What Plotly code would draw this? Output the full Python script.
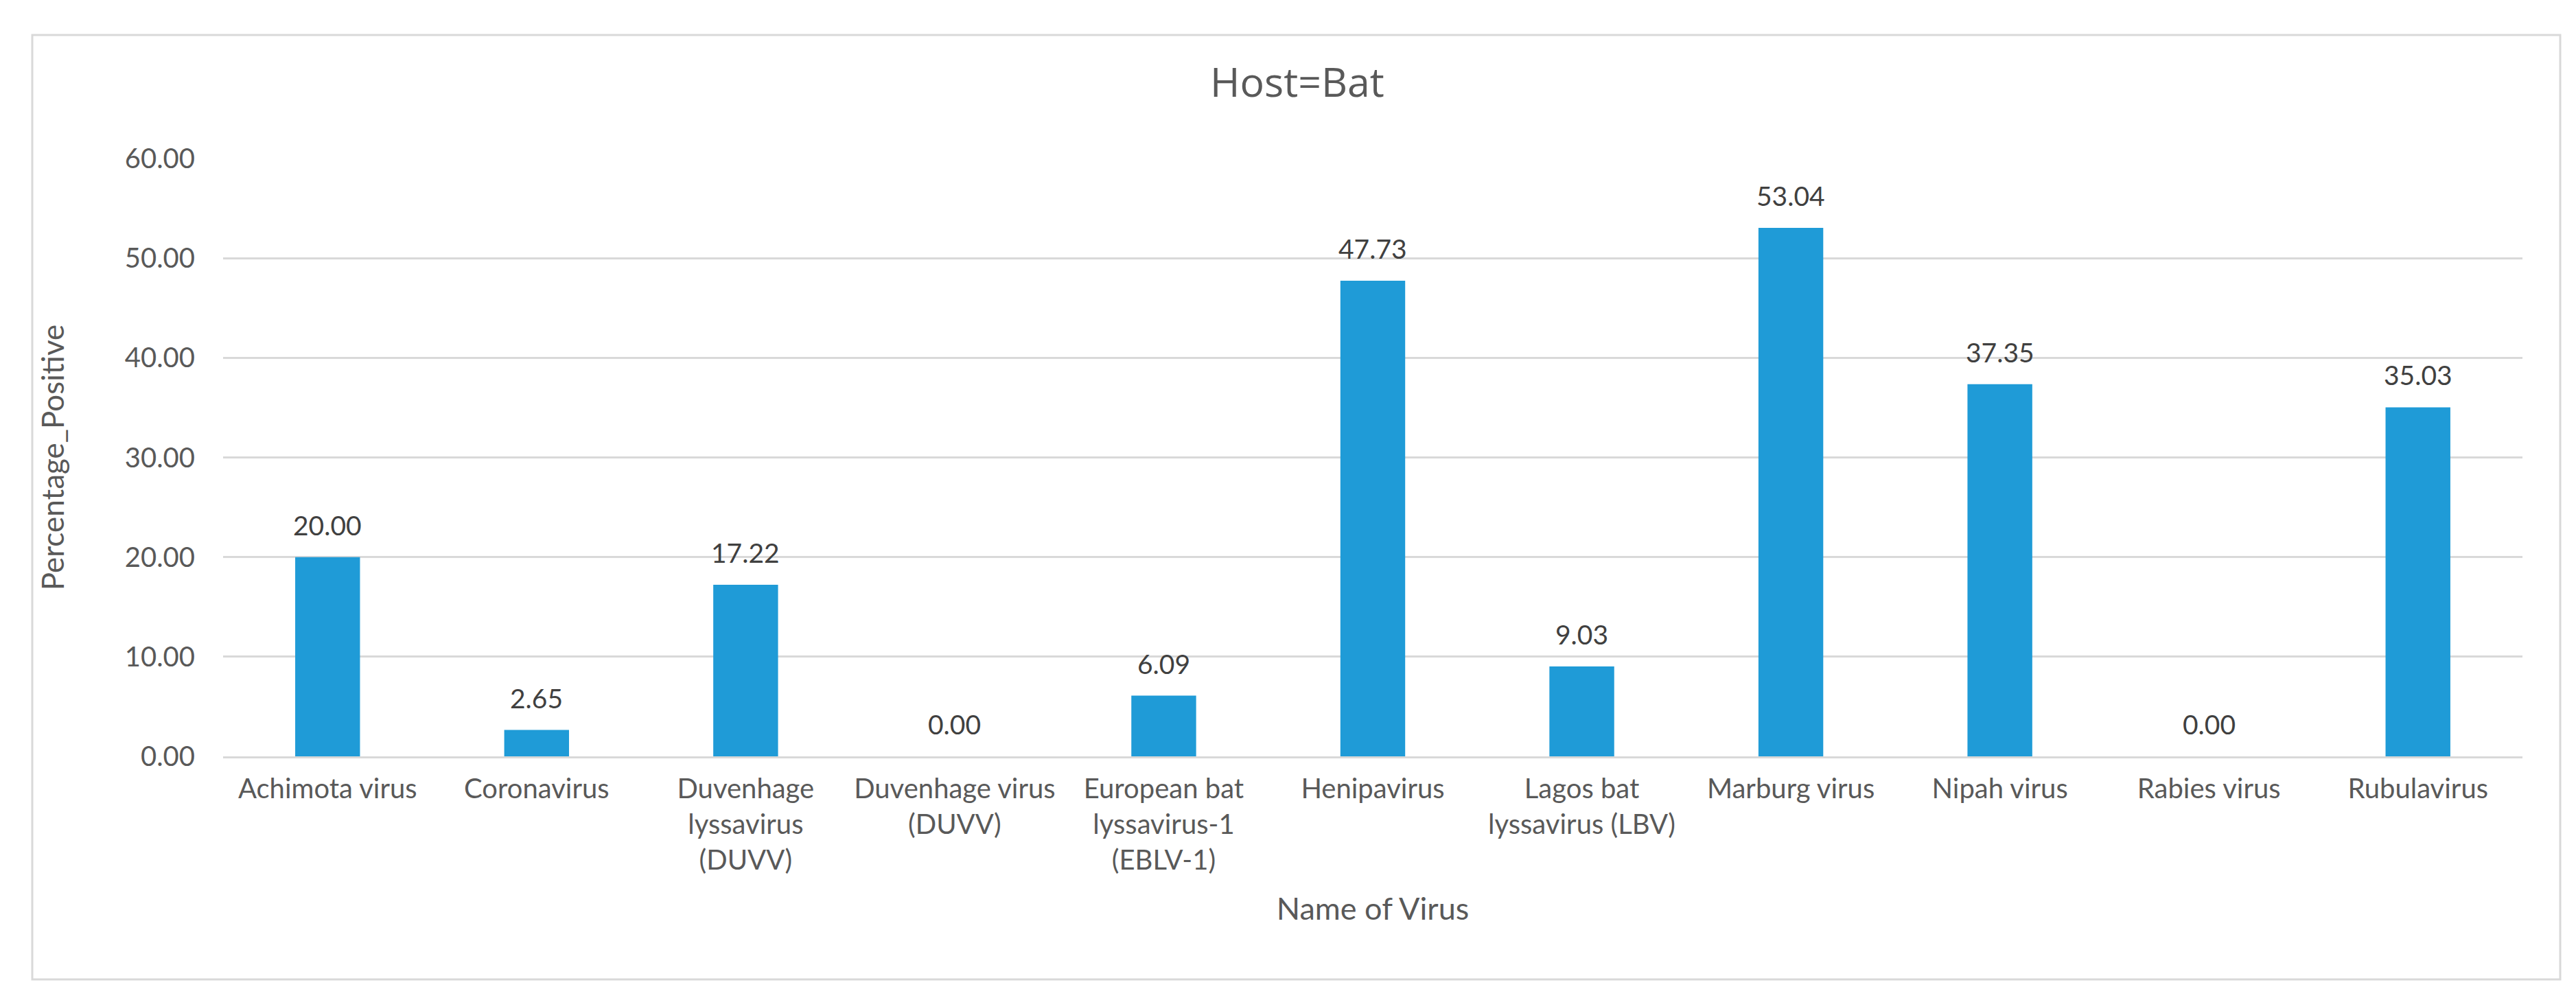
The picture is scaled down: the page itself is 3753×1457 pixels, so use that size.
import plotly.graph_objects as go

categories = ["Achimota virus", "Coronavirus", "Duvenhage lyssavirus (DUVV)",
              "Duvenhage virus (DUVV)", "European bat lyssavirus-1 (EBLV-1)",
              "Henipavirus", "Lagos bat lyssavirus (LBV)", "Marburg virus",
              "Nipah virus", "Rabies virus", "Rubulavirus"]
tick_labels = ["Achimota virus", "Coronavirus", "Duvenhage<br>lyssavirus<br>(DUVV)",
               "Duvenhage virus<br>(DUVV)", "European bat<br>lyssavirus-1<br>(EBLV-1)",
               "Henipavirus", "Lagos bat<br>lyssavirus (LBV)", "Marburg virus",
               "Nipah virus", "Rabies virus", "Rubulavirus"]
values = [20.00, 2.65, 17.22, 0.00, 6.09, 47.73, 9.03, 53.04, 37.35, 0.00, 35.03]
y_ticks = [0, 10, 20, 30, 40, 50, 60]

W, H = 3753, 1457
L, R, T, B = 317, 3667, 223, 1094

TXT = "#595959"
GRID = "#D9D9D9"
BAR = "#1F9BD7"
FONT = "Lato, 'Open Sans', sans-serif"

fig = go.Figure()
fig.add_trace(go.Bar(x=categories, y=values, marker=dict(color=BAR, line=dict(width=0)),
                     width=0.31, showlegend=False))

for c, v in zip(categories, values):
    fig.add_annotation(x=c, y=v, xref="x", yref="y", text=f"{v:.2f}", showarrow=False,
                       yanchor="bottom", yshift=22, font=dict(family=FONT, size=39, color="#404040"))

pw = R - L
ph = B - T
fig.add_shape(type="rect", xref="paper", yref="paper",
              x0=(39 - L) / pw, x1=(3722 - L) / pw,
              y0=(B - 1419) / ph, y1=(B - 43) / ph,
              line=dict(color=GRID, width=3), fillcolor="rgba(0,0,0,0)", layer="below")

fig.update_layout(
    width=W, height=H,
    margin=dict(l=L, r=W - R, t=T, b=H - B, autoexpand=False),
    paper_bgcolor="white", plot_bgcolor="white",
    title=dict(text="Host=Bat", x=1882 / W, xanchor="center", y=1 - 112 / H, yanchor="middle",
               xref="container", yref="container",
               font=dict(family="'Open Sans', sans-serif", size=59, color=TXT)),
    font=dict(family=FONT, color=TXT),
)
fig.update_xaxes(
    tickmode="array", tickvals=categories, ticktext=tick_labels,
    tickfont=dict(family=FONT, size=40, color=TXT), tickangle=0,
    showgrid=False, showline=True, linecolor=GRID, linewidth=3,
    ticks="", ticklabelstandoff=10,
    title=dict(text="Name of Virus", font=dict(family=FONT, size=45, color=TXT), standoff=34),
)
fig.update_yaxes(
    range=[0, 60], tickmode="array", tickvals=y_ticks,
    ticktext=[f"{t:.2f}" for t in y_ticks],
    tickfont=dict(family=FONT, size=40, color=TXT),
    showgrid=True, gridcolor=GRID, gridwidth=3, zeroline=False, showline=False,
    ticks="", ticklabelstandoff=40,
    title=dict(text="Percentage_Positive", font=dict(family=FONT, size=44, color=TXT), standoff=74),
)

fig.write_html("out.html")
